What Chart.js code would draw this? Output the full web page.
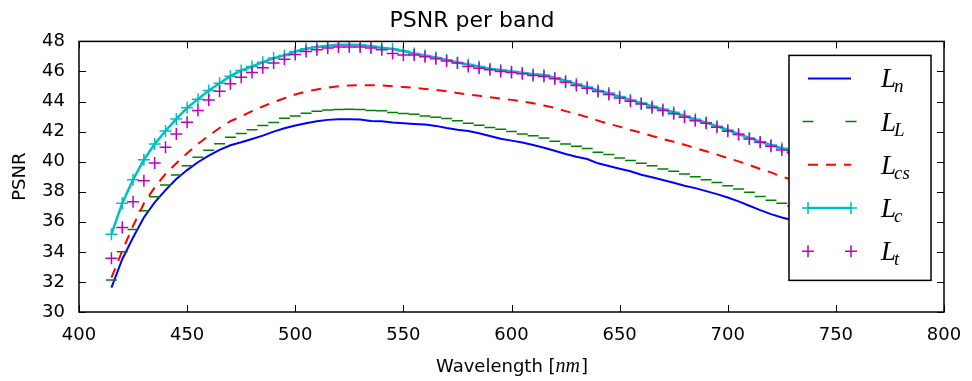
<!DOCTYPE html>
<html>
<head>
<meta charset="utf-8">
<script src="https://cdn.jsdelivr.net/npm/chart.js@4.4.1/dist/chart.umd.min.js"></script>
<style>
  html, body { margin: 0; padding: 0; background: #fff; }
  #wrap { width: 972px; height: 381px; position: relative; }
</style>
</head>
<body>
<div id="wrap"><canvas id="chartPsnr"></canvas></div>
<script>
// wavelengths (nm), one band every 5 nm
const wavelengths = [
  415, 420, 425, 430, 435, 440, 445, 450, 455, 460, 465, 470, 475, 480, 485, 490,
  495, 500, 505, 510, 515, 520, 525, 530, 535, 540, 545, 550, 555, 560, 565, 570,
  575, 580, 585, 590, 595, 600, 605, 610, 615, 620, 625, 630, 635, 640, 645, 650,
  655, 660, 665, 670, 675, 680, 685, 690, 695, 700, 705, 710, 715, 720, 725, 730
];

const psnrLn = [
  31.62, 33.51, 34.96, 36.29, 37.29, 38.11, 38.84, 39.44, 39.96, 40.40, 40.78, 41.09, 41.29, 41.51, 41.73, 42.00,
  42.22, 42.40, 42.56, 42.69, 42.78, 42.82, 42.82, 42.80, 42.71, 42.69, 42.60, 42.56, 42.51, 42.47, 42.38, 42.24,
  42.13, 42.04, 41.89, 41.71, 41.53, 41.40, 41.27, 41.11, 40.93, 40.73, 40.51, 40.33, 40.18, 39.89, 39.71, 39.53,
  39.36, 39.13, 38.96, 38.78, 38.60, 38.40, 38.24, 38.04, 37.84, 37.62, 37.36, 37.07, 36.78, 36.51, 36.29, 36.10
];

const psnrLL = [
  32.13, 34.00, 35.49, 36.73, 37.67, 38.44, 39.11, 39.73, 40.29, 40.76, 41.20, 41.62, 41.87, 42.13, 42.40, 42.60,
  42.89, 43.04, 43.22, 43.36, 43.44, 43.47, 43.49, 43.47, 43.40, 43.38, 43.27, 43.20, 43.16, 43.04, 42.96, 42.87,
  42.73, 42.56, 42.42, 42.27, 42.16, 42.00, 41.84, 41.73, 41.58, 41.36, 41.18, 41.02, 40.87, 40.62, 40.47, 40.24,
  40.07, 39.89, 39.73, 39.51, 39.36, 39.18, 39.00, 38.80, 38.62, 38.40, 38.18, 37.96, 37.69, 37.44, 37.24, 37.05
];

const psnrLcs = [
  32.29, 34.07, 35.73, 37.22, 38.29, 39.18, 39.89, 40.56, 41.18, 41.73, 42.24, 42.69, 43.02, 43.36, 43.67, 43.96,
  44.22, 44.47, 44.67, 44.80, 44.93, 45.02, 45.07, 45.09, 45.09, 45.07, 45.02, 44.96, 44.91, 44.84, 44.78, 44.69,
  44.56, 44.47, 44.38, 44.29, 44.20, 44.11, 44.00, 43.89, 43.73, 43.58, 43.36, 43.18, 42.96, 42.73, 42.51, 42.33,
  42.11, 41.93, 41.71, 41.51, 41.33, 41.13, 40.91, 40.69, 40.47, 40.24, 40.02, 39.78, 39.51, 39.29, 39.00, 38.80
];

const psnrLc = [
  35.18, 37.24, 38.80, 40.13, 41.18, 42.04, 42.84, 43.58, 44.16, 44.73, 45.22, 45.69, 46.07, 46.33, 46.62, 46.89,
  47.07, 47.33, 47.51, 47.62, 47.71, 47.78, 47.78, 47.76, 47.67, 47.58, 47.49, 47.36, 47.20, 47.07, 46.93, 46.78,
  46.60, 46.47, 46.33, 46.18, 46.09, 46.00, 45.91, 45.82, 45.76, 45.58, 45.38, 45.16, 44.96, 44.73, 44.56, 44.33,
  44.11, 43.91, 43.69, 43.49, 43.29, 43.04, 42.82, 42.60, 42.36, 42.11, 41.84, 41.58, 41.33, 41.11, 40.89, 40.70
];

const psnrLt = [
  33.58, 35.62, 37.33, 38.73, 39.91, 40.96, 41.84, 42.62, 43.40, 44.11, 44.69, 45.18, 45.62, 45.93, 46.24, 46.56,
  46.82, 47.13, 47.33, 47.44, 47.56, 47.62, 47.62, 47.62, 47.56, 47.44, 47.20, 47.10, 47.10, 46.98, 46.84, 46.69,
  46.56, 46.33, 46.22, 46.11, 46.00, 45.93, 45.84, 45.73, 45.67, 45.51, 45.29, 45.07, 44.89, 44.67, 44.47, 44.24,
  44.02, 43.84, 43.58, 43.40, 43.18, 42.96, 42.73, 42.56, 42.29, 42.02, 41.80, 41.51, 41.29, 41.02, 40.78, 40.60
];

const legendSubs = ["n", "L", "cs", "c", "t"];

const FONT = "'DejaVu Sans', sans-serif";
const MATH = "'Liberation Serif', 'DejaVu Serif', serif";

function pairs(vals) {
  return vals.map((v, i) => ({ x: wavelengths[i], y: v }));
}

// inward ticks on all four sides + full frame (matplotlib classic look)
const frameTicks = {
  id: "frameTicks",
  afterDatasetsDraw(chart) {
    const { ctx, chartArea: a, scales } = chart;
    const len = 7;
    ctx.save();
    ctx.strokeStyle = "#000";
    ctx.lineWidth = 1;
    ctx.beginPath();
    scales.x.ticks.forEach((t) => {
      const px = Math.round(scales.x.getPixelForValue(t.value)) + 0.5;
      ctx.moveTo(px, a.bottom); ctx.lineTo(px, a.bottom - len);
      ctx.moveTo(px, a.top); ctx.lineTo(px, a.top + len);
    });
    scales.y.ticks.forEach((t) => {
      const py = Math.round(scales.y.getPixelForValue(t.value)) + 0.5;
      ctx.moveTo(a.left, py); ctx.lineTo(a.left + len, py);
      ctx.moveTo(a.right, py); ctx.lineTo(a.right - len, py);
    });
    ctx.stroke();
    ctx.lineWidth = 1.5;
    ctx.strokeRect(a.left, a.top, a.right - a.left, a.bottom - a.top);
    ctx.restore();
  },
};

// legend box inside the axes, upper right, plus the x-axis label with italic unit
const boxLegend = {
  id: "boxLegend",
  afterDraw(chart) {
    const { ctx, chartArea: a } = chart;
    const w = 142, h = 225;
    const left = a.right - 13 - w;
    const top = a.top + 14;
    ctx.save();
    ctx.fillStyle = "#fff";
    ctx.fillRect(left, top, w, h);
    ctx.strokeStyle = "#000";
    ctx.lineWidth = 1.5;
    ctx.strokeRect(left, top, w, h);

    const x0 = left + 19, x1 = left + 62;
    chart.data.datasets.forEach((ds, i) => {
      const y = top + 23 + i * 43.2;
      const col = ds.borderColor;
      ctx.setLineDash(ds.borderDash || []);
      if (ds.showLine !== false) {
        ctx.strokeStyle = col;
        ctx.lineWidth = ds.borderWidth;
        ctx.beginPath();
        ctx.moveTo(x0, y);
        ctx.lineTo(x1, y);
        ctx.stroke();
      }
      ctx.setLineDash([]);
      if (ds.pointRadius > 0) {
        const r = ds.pointRadius;
        ctx.strokeStyle = col;
        ctx.lineWidth = ds.pointBorderWidth;
        ctx.beginPath();
        [x0, x1].forEach((px) => {
          ctx.moveTo(px - r, y); ctx.lineTo(px + r, y);
          if (ds.pointStyle === "cross") {
            ctx.moveTo(px, y - r); ctx.lineTo(px, y + r);
          }
        });
        ctx.stroke();
      }
      // label: italic L with subscript
      ctx.fillStyle = "#000";
      ctx.textBaseline = "alphabetic";
      ctx.textAlign = "left";
      ctx.font = "italic 27px " + MATH;
      const lx = left + 92;
      const base = y + 9;
      ctx.fillText("L", lx, base);
      const lw = ctx.measureText("L").width;
      ctx.font = "italic 19px " + MATH;
      ctx.fillText(legendSubs[i], lx + lw - 2, base + 5);
    });

    // x-axis title: Wavelength [nm]
    ctx.font = "18px " + FONT;
    const p1 = "Wavelength [", p3 = "]";
    const w1 = ctx.measureText(p1).width;
    const w3 = ctx.measureText(p3).width;
    ctx.font = "italic 20px " + MATH;
    const w2 = ctx.measureText("nm").width;
    let tx = (a.left + a.right) / 2 - (w1 + w2 + w3) / 2;
    const ty = 372;
    ctx.font = "18px " + FONT;
    ctx.fillText(p1, tx, ty);
    ctx.font = "italic 20px " + MATH;
    ctx.fillText("nm", tx + w1, ty);
    ctx.font = "18px " + FONT;
    ctx.fillText(p3, tx + w1 + w2 + 1, ty);
    ctx.restore();
  },
};

Chart.defaults.color = "#000";
Chart.defaults.font.family = FONT;
Chart.defaults.font.size = 18;

new Chart(document.getElementById("chartPsnr"), {
  type: "line",
  data: {
    datasets: [
      { label: "L_n", data: pairs(psnrLn), borderColor: "#0000ff", borderWidth: 2,
        pointRadius: 0, order: 5 },
      { label: "L_L", data: pairs(psnrLL), borderColor: "#008000", showLine: false,
        pointStyle: "line", pointRadius: 5.5, pointBorderWidth: 1.5, order: 4 },
      { label: "L_cs", data: pairs(psnrLcs), borderColor: "#ff0000", borderWidth: 2,
        borderDash: [10, 8], pointRadius: 0, order: 3 },
      { label: "L_c", data: pairs(psnrLc), borderColor: "#00bfbf", borderWidth: 2.5,
        pointStyle: "cross", pointRadius: 6, pointBorderWidth: 1.5, order: 2 },
      { label: "L_t", data: pairs(psnrLt), borderColor: "#bf00bf", showLine: false,
        pointStyle: "cross", pointRadius: 6, pointBorderWidth: 1.5, order: 1 },
    ],
  },
  options: {
    responsive: true,
    maintainAspectRatio: false,
    animation: false,
    events: [],
    layout: { padding: { left: 0, right: 28, top: 0, bottom: 0 } },
    elements: { line: { tension: 0 }, point: { backgroundColor: "transparent" } },
    plugins: {
      legend: { display: false },
      tooltip: { enabled: false },
      title: {
        display: true,
        text: "PSNR per band",
        color: "#000",
        font: { family: FONT, size: 22, weight: "normal" },
        padding: { top: 8, bottom: 7 },
      },
    },
    scales: {
      x: {
        type: "linear",
        min: 400,
        max: 800,
        ticks: { stepSize: 50, padding: 5, maxRotation: 0 },
        grid: { display: false },
        border: { display: false },
        afterFit(scale) { scale.height = 69; },
      },
      y: {
        min: 30,
        max: 48,
        ticks: { stepSize: 2, padding: 6 },
        grid: { display: false },
        border: { display: false },
        title: { display: true, text: "PSNR", font: { family: FONT, size: 18 }, padding: { top: 10, bottom: 0 } },
        afterFit(scale) { scale.width = 79; },
      },
    },
  },
  plugins: [frameTicks, boxLegend],
});
</script>
</body>
</html>
